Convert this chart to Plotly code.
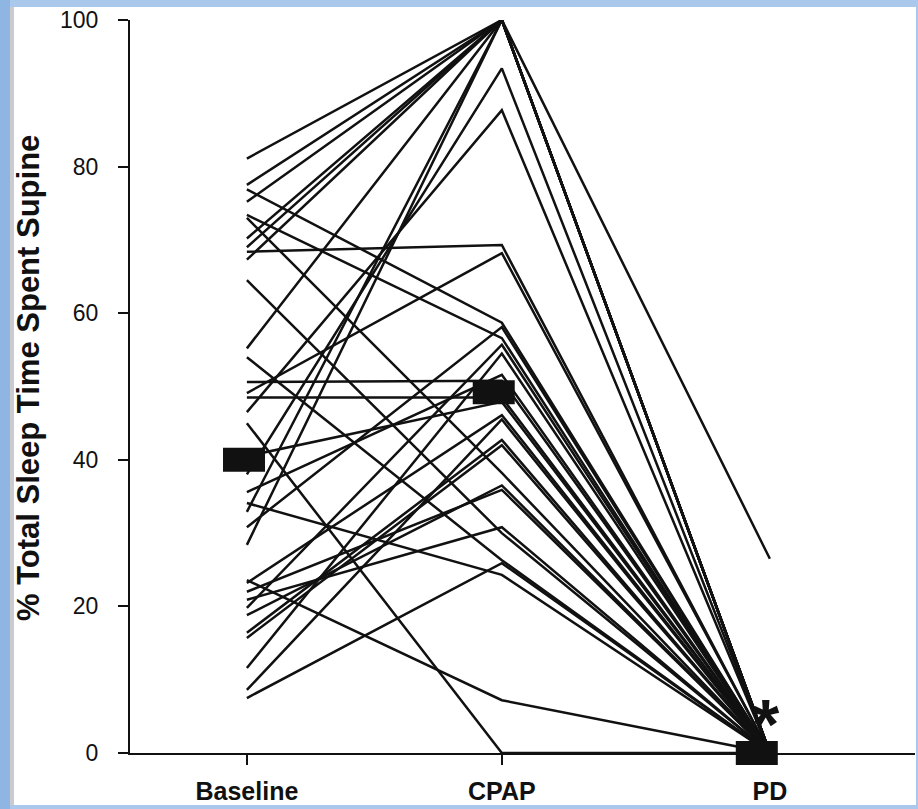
import plotly.graph_objects as go

# ---- data ----
conditions = ["Baseline", "CPAP", "PD"]
baseline = [81.1, 77.5, 76.9, 75.2, 73.4, 73.0, 70.2, 69.0, 68.4, 67.3,
            64.5, 55.2, 54.0, 50.6, 49.1, 48.5, 46.5, 45.0, 40.5, 38.0,
            35.6, 34.1, 32.9, 30.8, 28.4, 23.6, 23.2, 22.0, 20.9, 19.8,
            18.8, 16.4, 15.7, 11.6, 8.6, 7.5]
cpap = [100, 100, 58.7, 100, 56.6, 38.2, 100, 100, 69.3, 100,
        30.0, 100, 26.3, 50.8, 68.2, 48.5, 87.7, 0.0, 47.9, 93.4,
        51.6, 24.3, 100, 58.1, 100, 7.2, 46.1, 35.9, 30.8, 55.7,
        36.5, 42.7, 42.0, 54.5, 45.5, 25.9]
pd_vals = [0, 0, 0, 0, 0, 0, 26.5, 0, 0, 0,
           0, 0, 0, 0, 0, 0, 0, 0, 0, 0,
           0, 0, 0, 0, 0, 0, 0, 0, 0, 0,
           0, 0, 0, 0, 0, 0]
group_means = [40.0, 49.2, 0.0]
y_ticks = [0, 20, 40, 60, 80, 100]
y_title = "% Total Sleep Time Spent Supine"
sig_mark = "*"

# ---- layout geometry ----
W, H = 918, 809
L, R, T, B = 130, 3, 20, 56
pw, ph = W - L - R, H - T - B
x_range = [-0.447, 2.555]
cat_pos = [0.0, 0.975, 2.0]          # horizontal placement of the three conditions
mean_pos = [-0.011, 0.944, 1.95]     # mean bars sit slightly left of each condition

def px_x(p):
    return (p - L) / pw

def px_y(p):
    return (H - B - p) / ph

fig = go.Figure()
for b, c, p in zip(baseline, cpap, pd_vals):
    fig.add_trace(go.Scatter(
        x=cat_pos, y=[b, c, p], mode="lines",
        line=dict(color="#111111", width=2.5),
        hoverinfo="skip", showlegend=False, cliponaxis=False))

fig.add_trace(go.Scatter(
    x=mean_pos, y=group_means, mode="markers",
    marker=dict(symbol="line-ew", size=30, color="#111111",
                line=dict(color="#111111", width=24)),
    hoverinfo="skip", showlegend=False, cliponaxis=False))

sans = "Liberation Sans, Arial, sans-serif"

fig.add_annotation(x=cat_pos[2] - 0.015, y=3.8, text=sig_mark, showarrow=False,
                   xanchor="center", yanchor="middle",
                   font=dict(family=sans, size=70, color="#111111",
                             weight="bold"))

fig.add_annotation(xref="paper", yref="paper", x=px_x(28), y=px_y(378),
                   text=y_title, textangle=-90, showarrow=False,
                   xanchor="center", yanchor="middle",
                   font=dict(family=sans, size=31, color="#111111",
                             weight="bold"))

shapes = [
    dict(type="rect", xref="paper", yref="paper",
         x0=px_x(0), x1=px_x(10), y0=px_y(H), y1=px_y(0),
         fillcolor="#8fb6e3", line=dict(width=0), layer="below"),
    dict(type="rect", xref="paper", yref="paper",
         x0=px_x(10), x1=px_x(14), y0=px_y(805), y1=px_y(7),
         fillcolor="#c9cbcf", line=dict(width=0), layer="below"),
    dict(type="rect", xref="paper", yref="paper",
         x0=px_x(14), x1=px_x(916), y0=px_y(805), y1=px_y(7),
         fillcolor="#ffffff", line=dict(width=0), layer="below"),
]

fig.update_layout(
    width=W, height=H,
    margin=dict(l=L, r=R, t=T, b=B, pad=0),
    paper_bgcolor="#a9c8eb",
    plot_bgcolor="rgba(0,0,0,0)",
    shapes=shapes,
    showlegend=False,
    xaxis=dict(
        range=x_range, tickmode="array", tickvals=cat_pos,
        ticktext=conditions, showgrid=False, zeroline=False,
        showline=True, linecolor="#111111", linewidth=2,
        ticks="outside", ticklen=10, tickwidth=1.5, tickcolor="#111111",
        ticklabelstandoff=5,
        tickfont=dict(family=sans, size=25, color="#111111",
                      weight="bold"),
        fixedrange=True),
    yaxis=dict(
        range=[0, 100], tickmode="array", tickvals=y_ticks,
        showgrid=False, zeroline=False,
        showline=True, linecolor="#111111", linewidth=2,
        ticks="outside", ticklen=10, tickwidth=2, tickcolor="#111111",
        ticklabelstandoff=15,
        tickfont=dict(family=sans, size=23, color="#111111"),
        fixedrange=True),
)

fig.write_html("out.html",
               config={"displayModeBar": False, "staticPlot": True},
               post_script="document.body.style.margin='0';"
                           "document.body.style.overflow='hidden';")
